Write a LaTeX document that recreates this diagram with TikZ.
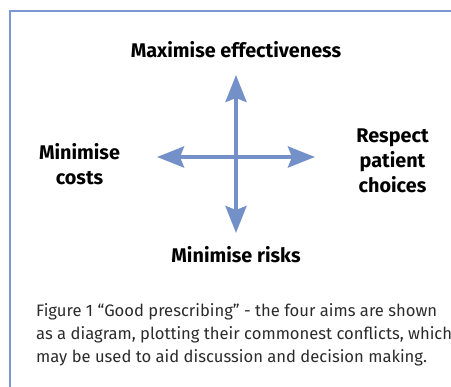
\documentclass[tikz,border=0pt]{standalone}
\usepackage{fontspec}
\setmainfont{Fira Sans}
\usetikzlibrary{arrows.meta}
\definecolor{framecol}{HTML}{7B96D4}
\definecolor{arrowcol}{HTML}{7391C8}
\definecolor{captioncol}{HTML}{2B2B2B}
\tikzset{
  aim/.style={font=\fontsize{19.8}{25}\selectfont\bfseries, align=center, inner sep=0pt},
  axisarrow/.style={draw=arrowcol, line width=4pt,
    {Stealth[length=27pt,width=21pt,inset=4pt]}-{Stealth[length=27pt,width=21pt,inset=4pt]}},
  framebar/.style={draw=framecol, line width=1.5pt},
  captiontext/.style={font=\fontsize{16.6}{23}\selectfont, text=captioncol, align=left, inner sep=0pt, anchor=north west}
}
\begin{document}
\begin{tikzpicture}[x=1pt,y=-1pt]
  \useasboundingbox (0,0) rectangle (451,387);
  % panel border (left and top edges)
  \coordinate (fb) at (10,387);
  \coordinate (fc) at (10,11);
  \coordinate (fr) at (451,11);
  \draw[framebar] (fb) -- (fc) -- (fr);
  % axes
  \coordinate (top) at (236,75);
  \coordinate (bottom) at (236,233);
  \coordinate (left) at (157,157);
  \coordinate (right) at (315,157);
  \draw[axisarrow] (bottom) -- (top);
  \draw[axisarrow] (left) -- (right);
  % the four aims
  \node[aim] (eff) at (236,50) {Maximise effectiveness};
  \node[aim] (risk) at (236,255) {Minimise risks};
  \node[aim] (cost) at (79.5,164) {Minimise\\costs};
  \node[aim] (choice) at (392.5,161) {Respect\\patient\\choices};
  % caption
  \node[captiontext] (cap) at (36,303) {Figure 1 “Good prescribing” - the four aims are shown\\as a diagram, plotting their commonest conflicts, which\\may be used to aid discussion and decision making.};
\end{tikzpicture}
\end{document}
